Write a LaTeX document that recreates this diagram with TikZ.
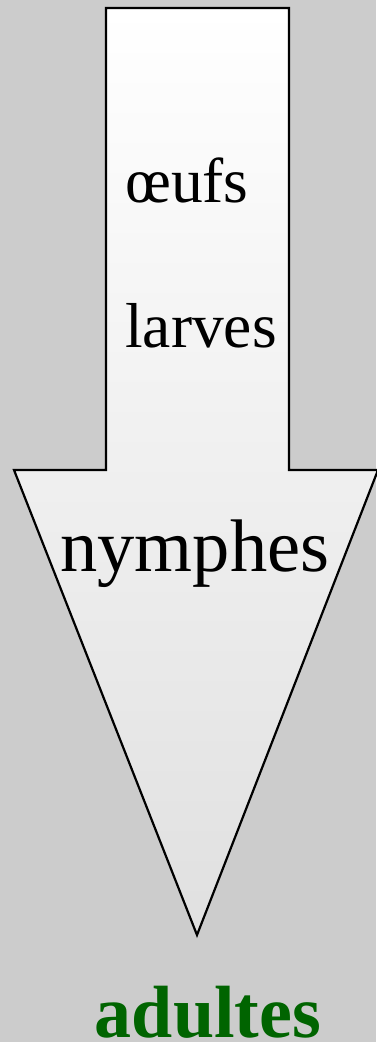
\documentclass[tikz,border=0pt]{standalone}
\usepackage{fontspec}
\setmainfont{Liberation Serif}
\definecolor{bg}{RGB}{204,204,204}
\definecolor{adultgreen}{RGB}{0,100,0}
\definecolor{shadebot}{RGB}{224,224,224}
\begin{document}
\begin{tikzpicture}[x=1pt,y=-1pt,
  stage/.style={inner sep=0pt,font=\fontsize{63.5}{63.5}\selectfont},
  bigstage/.style={inner sep=0pt,font=\fontsize{74.5}{74.5}\selectfont},
  adult/.style={inner sep=0pt,text=adultgreen,font=\fontsize{74}{74}\selectfont\bfseries}]
\fill[bg] (0,0) rectangle (376,1042);
\useasboundingbox (0,0) rectangle (376,1042);
\draw[line width=2.2pt,line join=miter,top color=white,bottom color=shadebot]
  (106,8) -- (289,8) -- (289,470) -- (378,470) -- (197,935) -- (14,470) -- (106,470) -- cycle;
\node[stage,anchor=base west] (oeufs) at (125,202) {œufs};
\node[stage,anchor=base west] (larves) at (125,347) {larves};
\node[bigstage,anchor=base] (nymphes) at (195,571) {nymphes};
\node[adult,anchor=base] (adultes) at (208,1037) {adultes};
\end{tikzpicture}
\end{document}
